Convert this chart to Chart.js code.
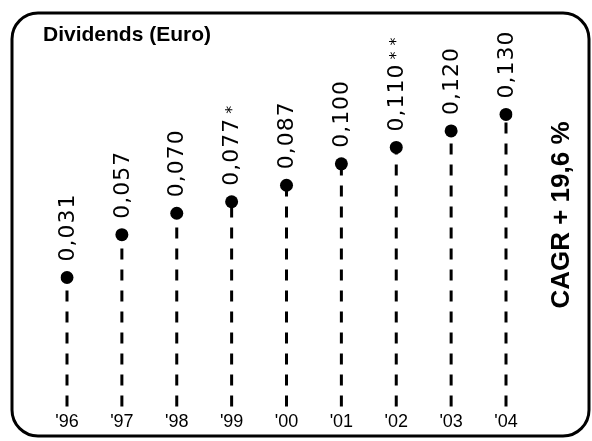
<!DOCTYPE html>
<html>
<head>
<meta charset="utf-8">
<title>Dividends (Euro)</title>
<script src="https://cdn.jsdelivr.net/npm/chart.js@4.4.1/dist/chart.umd.min.js"></script>
<style>
    html, body { margin: 0; padding: 0; background: #fff; }
    #chart-box { width: 592px; height: 441px; }
</style>
</head>
<body>
<div id="chart-box"><canvas id="dividendChart" width="592" height="441"></canvas></div>
<script>
// data
const years = ["'96", "'97", "'98", "'99", "'00", "'01", "'02", "'03", "'04"];
const dividends = [0.031, 0.057, 0.070, 0.077, 0.087, 0.100, 0.110, 0.120, 0.130];
const notes = ['', '', '', '*', '', '', '**', '', ''];
const chartTitle = 'Dividends (Euro)';
const cagrText = 'CAGR + 19,6 %';

const formatValue = v => v.toFixed(3).replace('.', ',');

// rounded frame + white background
const framePlugin = {
    id: 'frame',
    beforeDraw(chart) {
        const { ctx, width, height } = chart;
        ctx.save();
        ctx.fillStyle = '#fff';
        ctx.fillRect(0, 0, width, height);
        ctx.strokeStyle = '#000';
        ctx.lineWidth = 3;
        ctx.beginPath();
        ctx.roundRect(12, 13, 577, 423, 26);
        ctx.stroke();
        ctx.restore();
    },
    afterDraw(chart) {
        const { ctx } = chart;
        ctx.save();
        ctx.fillStyle = '#000';
        ctx.font = 'bold 21px "Liberation Sans", Arial, sans-serif';
        ctx.textAlign = 'left';
        ctx.textBaseline = 'middle';
        ctx.fillText(chartTitle, 43, 35);

        ctx.translate(chart.chartArea.right + 56, 215);
        ctx.rotate(-Math.PI / 2);
        ctx.font = 'bold 26px "Liberation Sans", Arial, sans-serif';
        ctx.textAlign = 'center';
        ctx.fillText(cagrText, 0, 0);
        ctx.restore();
    }
};

// dashed drop lines from each dot down to the axis
const stemPlugin = {
    id: 'stems',
    beforeDatasetsDraw(chart) {
        const { ctx, chartArea } = chart;
        const meta = chart.getDatasetMeta(0);
        ctx.save();
        ctx.strokeStyle = '#000';
        ctx.lineWidth = 3;
        ctx.setLineDash([11, 10]);
        meta.data.forEach(pt => {
            ctx.beginPath();
            ctx.moveTo(pt.x, chartArea.bottom);
            ctx.lineTo(pt.x, pt.y);
            ctx.stroke();
        });
        ctx.restore();
    }
};

// rotated value labels above the dots
const valueLabelPlugin = {
    id: 'valueLabels',
    afterDatasetsDraw(chart) {
        const { ctx } = chart;
        const meta = chart.getDatasetMeta(0);
        meta.data.forEach((pt, i) => {
            const txt = formatValue(dividends[i]);
            ctx.save();
            ctx.translate(pt.x + 1, pt.y - 16);
            ctx.rotate(-Math.PI / 2);
            ctx.fillStyle = '#000';
            ctx.font = '22px "DejaVu Sans", sans-serif';
            ctx.letterSpacing = '1px';
            ctx.textAlign = 'left';
            ctx.textBaseline = 'middle';
            ctx.fillText(txt, 0, 0);
            if (notes[i]) {
                const w = ctx.measureText(txt).width;
                ctx.font = '16px "DejaVu Sans", sans-serif';
                ctx.letterSpacing = '6px';
                ctx.fillText(notes[i], w + 4, 0);
            }
            ctx.restore();
        });
    }
};

new Chart(document.getElementById('dividendChart').getContext('2d'), {
    type: 'line',
    data: {
        labels: years,
        datasets: [{
            label: chartTitle,
            data: dividends,
            showLine: false,
            pointRadius: 6.5,
            pointBorderWidth: 0,
            pointBackgroundColor: '#000',
            pointBorderColor: '#000'
        }]
    },
    options: {
        responsive: false,
        animation: false,
        devicePixelRatio: 1,
        layout: {
            padding: { left: 67, right: 86, top: 30, bottom: 3 }
        },
        plugins: {
            legend: { display: false },
            tooltip: { enabled: false },
            title: { display: false }
        },
        scales: {
            x: {
                offset: false,
                grid: { display: false, drawTicks: false },
                border: { display: false },
                ticks: {
                    color: '#000',
                    padding: 5,
                    maxRotation: 0,
                    font: { family: '"Liberation Sans", Arial, sans-serif', size: 18 }
                }
            },
            y: {
                display: false,
                min: -0.0473,
                max: 0.1813
            }
        }
    },
    plugins: [framePlugin, stemPlugin, valueLabelPlugin]
});
</script>
</body>
</html>
